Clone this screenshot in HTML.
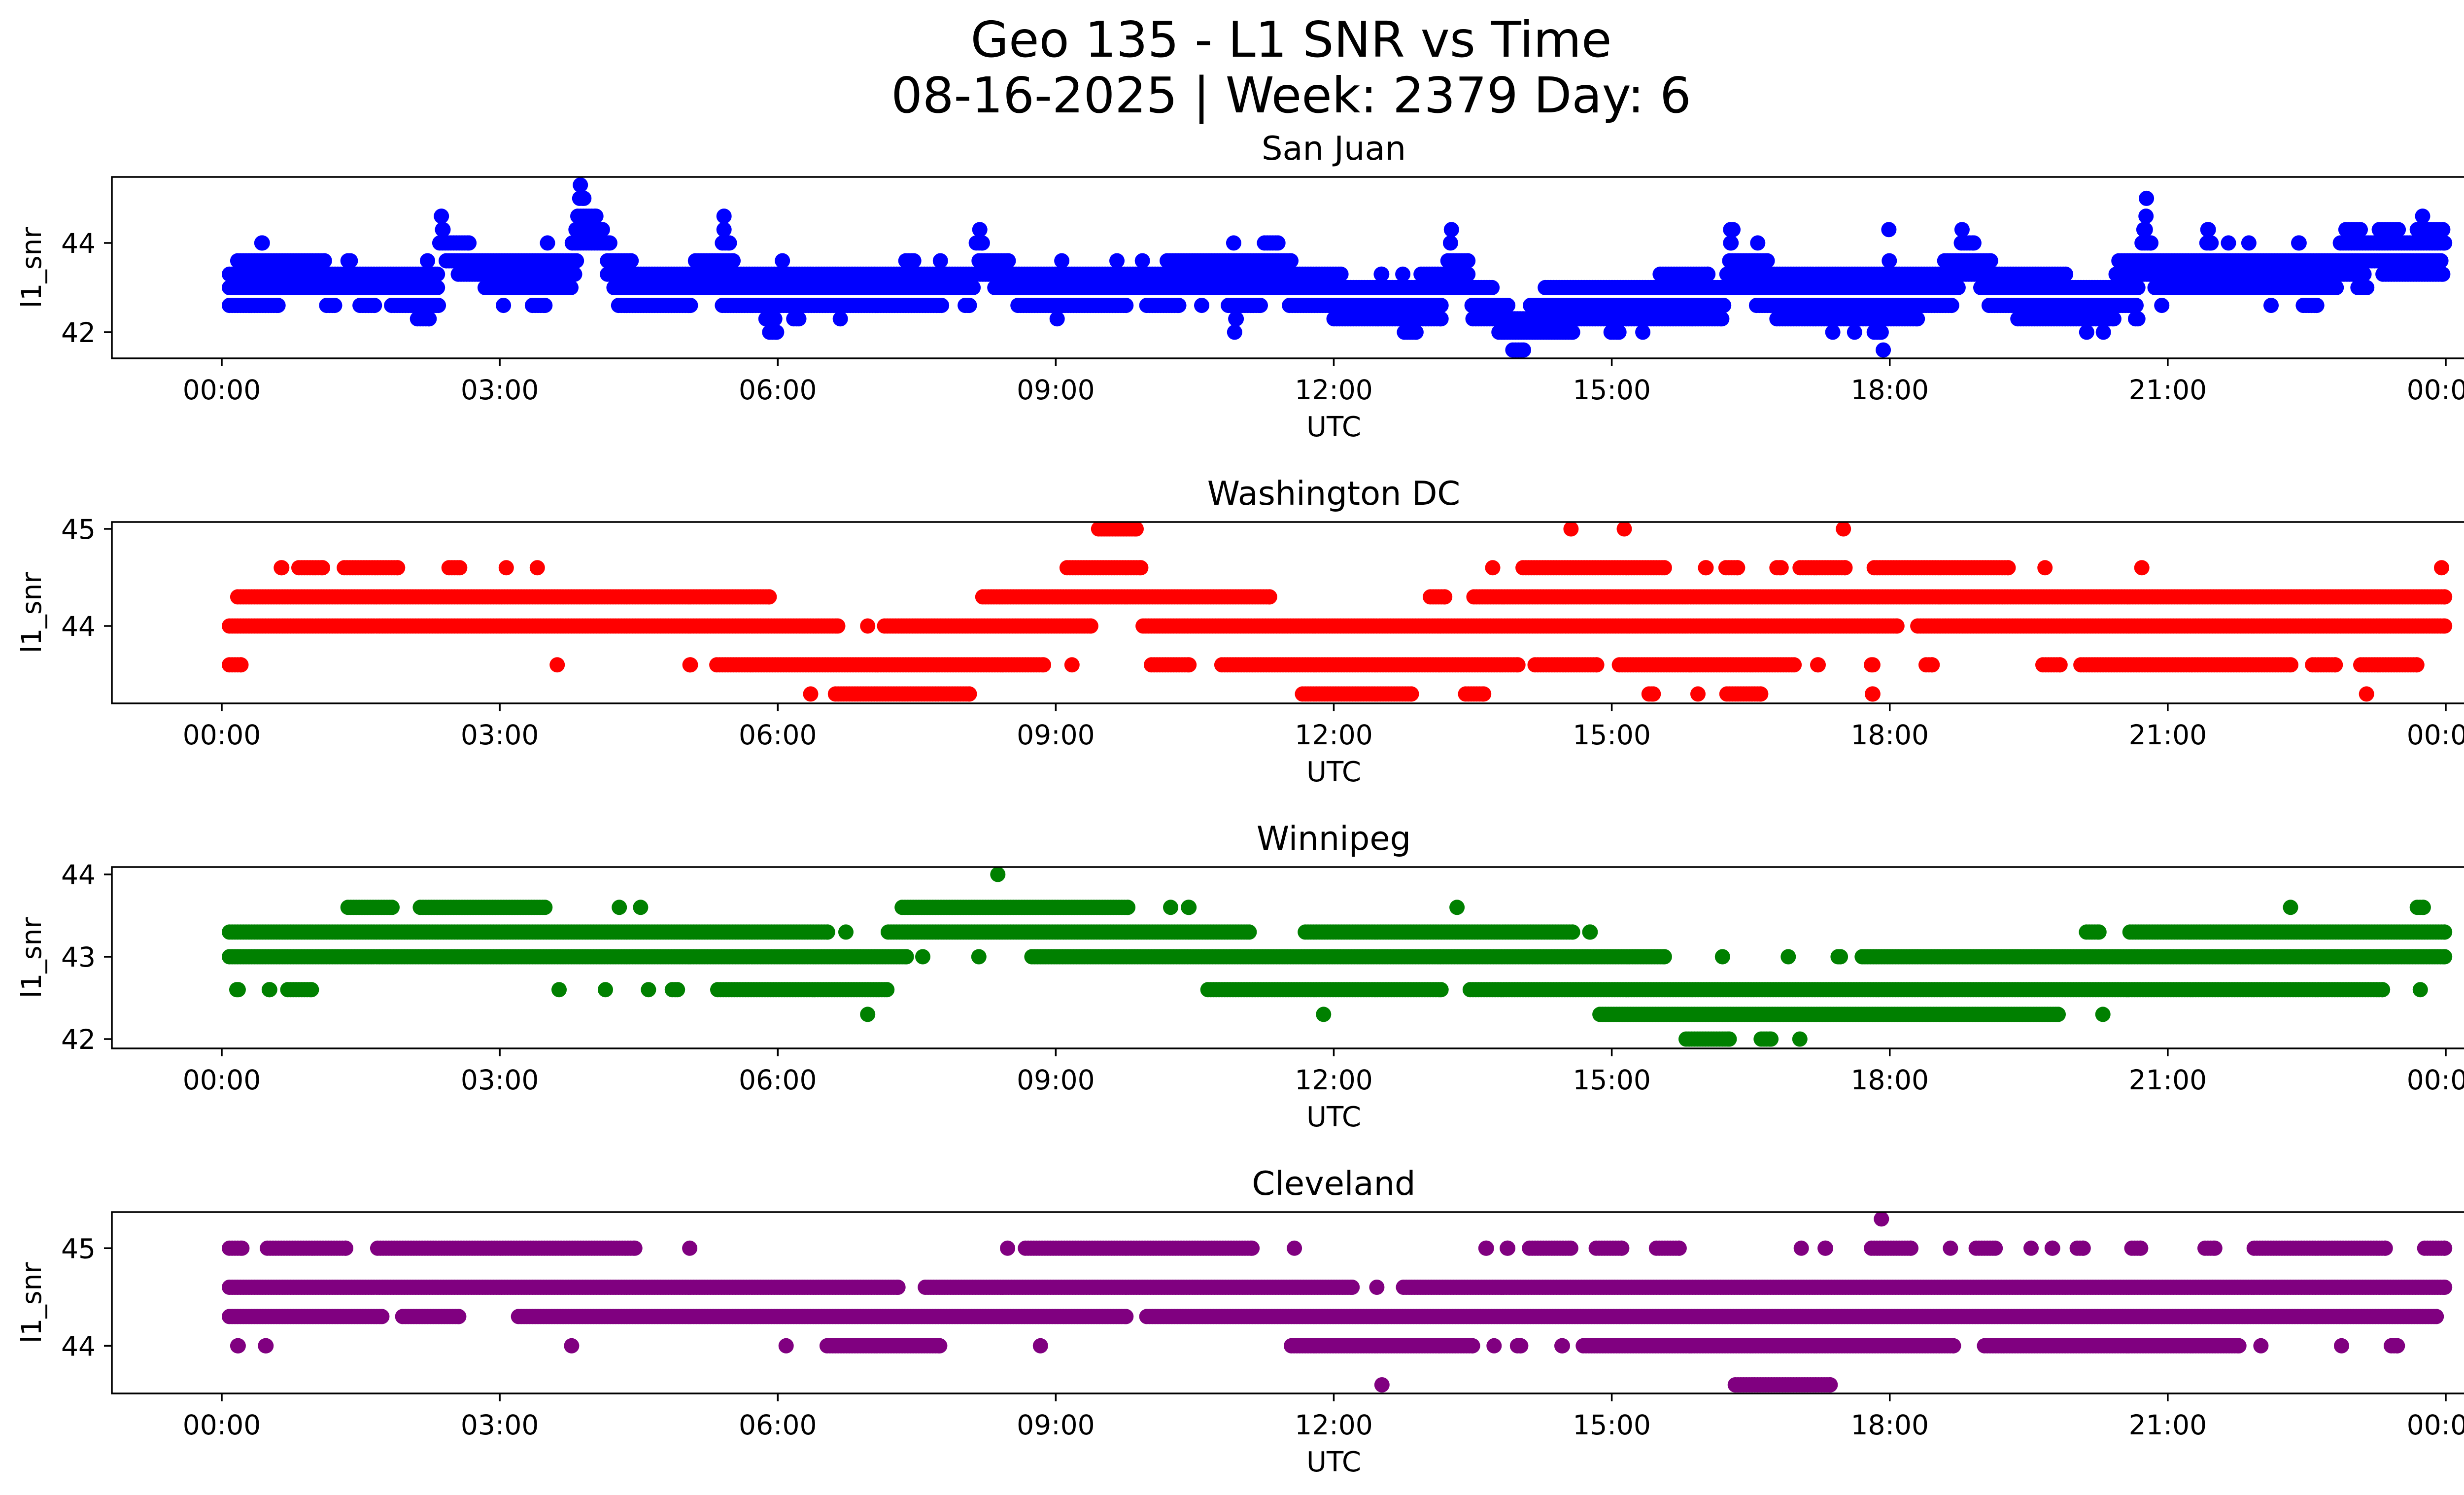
<!DOCTYPE html>
<html><head><meta charset="utf-8"><style>
html,body{margin:0;padding:0;background:#fff;}
svg{display:block;font-family:"DejaVu Sans","Liberation Sans",sans-serif;}
</style></head><body>
<svg id="fig" width="5226" height="3033" viewBox="0 0 5226 3033" xmlns="http://www.w3.org/2000/svg">
<rect width="5226" height="3033" fill="#fff"/>
<text x="2620" y="115" font-size="100" text-anchor="middle">Geo 135 - L1 SNR vs Time</text>
<text x="2620" y="228" font-size="100" text-anchor="middle">08-16-2025 | Week: 2379 Day: 6</text>
</svg>
<script>
// ---- data (hours UTC, SNR levels) ----
const xTickHours = [0,3,6,9,12,15,18,21,24];
const xTickLabels = ["00:00","03:00","06:00","09:00","12:00","15:00","18:00","21:00","00:00"];
const panelTitles = ["San Juan","Washington DC","Winnipeg","Cleveland"];
const panelColors = ["#0000ff","#ff0000","#008000","#800080"];
const yTicks1 = [42,44];
const yTicks2 = [44,45];
const yTicks3 = [42,43,44];
const yTicks4 = [44,45];
const levels1 = [45.3,45.0,44.6,44.3,44.0,43.6,43.3,43.0,42.6,42.3,42.0,41.6];
const runs1 = [
 [[3.81,3.93]],
 [[3.78,3.99],[20.73,20.81]],
 [[2.3,2.44],[3.76,4.12],[5.35,5.49],[20.7,20.83],[23.69,23.81]],
 [[2.3,2.47],[3.74,4.19],[5.35,5.49],[8.1,8.26],[13.2,13.34],[16.2,16.39],[17.93,18.05],[18.71,18.85],[20.66,20.84],[21.35,21.52],[22.84,23.16],[23.2,23.57],[23.61,24.05]],
 [[0.35,0.52],[2.27,2.75],[3.44,3.59],[3.7,4.27],[5.32,5.56],[8.06,8.29],[10.84,11.0],[11.17,11.48],[13.18,13.34],[16.2,16.37],[16.5,16.65],[18.69,18.99],[20.64,20.9],[21.34,21.55],[21.59,21.72],[21.8,21.95],[22.33,22.5],[22.78,24.07]],
 [[0.09,1.19],[1.28,1.47],[2.14,2.3],[2.34,3.91],[4.08,4.5],[5.03,5.6],[5.99,6.11],[7.3,7.55],[7.68,7.83],[8.09,8.57],[8.99,9.14],[9.59,9.73],[9.86,10.01],[10.12,11.62],[13.15,13.53],[16.19,16.76],[17.92,18.07],[18.51,19.17],[20.39,24.03]],
 [[0,2.41],[2.47,3.89],[4.08,12.16],[12.43,12.6],[12.69,12.8],[12.86,13.53],[15.44,16.12],[16.16,19.98],[20.36,23.2],[23.24,24.05]],
 [[0,2.41],[2.76,3.85],[4.15,8.19],[8.26,13.79],[14.2,18.82],[18.9,20.76],[20.78,22.9],[22.97,23.23]],
 [[0,0.69],[1.05,1.3],[1.41,1.73],[1.75,2.42],[2.98,3.1],[3.27,3.57],[4.2,5.14],[5.32,7.85],[7.94,8.15],[8.51,9.84],[9.9,10.41],[10.5,10.65],[10.78,11.29],[11.44,13.24],[13.41,13.96],[14.04,16.29],[16.48,18.75],[18.99,20.74],[20.87,21.0],[22.06,22.17],[22.38,22.69]],
 [[2.03,2.32],[5.79,6.05],[6.09,6.31],[6.6,6.75],[8.94,9.09],[10.86,11.03],[11.92,13.24],[13.42,16.27],[16.7,18.38],[19.3,20.5],[20.57,20.76]],
 [[5.83,6.07],[10.86,11.0],[12.68,12.97],[13.7,14.66],[14.91,15.16],[15.27,15.4],[17.31,17.46],[17.55,17.69],[17.75,17.99],[20.06,20.19],[20.23,20.38]],
 [[13.85,14.13],[17.86,18.0]]
];
const levels2 = [45.0,44.6,44.3,44.0,43.6,43.3];
const runs2 = [
 [[9.38,9.95],[14.48,14.64],[15.06,15.21],[17.42,17.58]],
 [[0.56,0.73],[0.75,1.17],[1.24,1.98],[2.37,2.65],[2.99,3.15],[3.33,3.48],[9.04,10.0],[13.64,13.79],[13.96,15.65],[15.93,16.1],[16.15,16.44],[16.7,16.91],[16.95,17.6],[17.75,19.36],[19.6,19.75],[20.64,20.8],[23.88,24.03]],
 [[0.09,5.99],[8.13,11.39],[12.96,13.28],[13.43,24.07]],
 [[0,6.73],[6.9,7.04],[7.07,9.46],[9.86,18.16],[18.22,24.07]],
 [[0,0.29],[3.54,3.7],[4.97,5.14],[5.26,8.95],[9.1,9.25],[9.95,10.52],[10.71,14.07],[14.09,14.92],[15.0,17.05],[17.14,17.31],[17.72,17.9],[18.31,18.54],[19.57,19.92],[19.98,22.41],[22.48,22.89],[23.0,23.77]],
 [[6.28,6.43],[6.54,8.15],[11.58,12.92],[13.34,13.7],[15.32,15.53],[15.85,16.01],[16.16,16.69],[17.73,17.9],[23.07,23.22]]
];
const levels3 = [44.0,43.6,43.3,43.0,42.6,42.3,42.0];
const runs3 = [
 [[8.3,8.45]],
 [[1.28,1.92],[2.06,3.57],[4.22,4.36],[4.44,4.6],[7.26,9.86],[10.17,10.31],[10.35,10.52],[13.25,13.41],[22.25,22.4],[23.61,23.84]],
 [[0,6.62],[6.66,6.81],[7.11,11.17],[11.61,14.66],[14.68,14.85],[20.04,20.34],[20.51,24.07]],
 [[0,7.47],[7.49,7.64],[8.1,8.24],[8.66,15.65],[16.12,16.27],[16.83,16.98],[17.36,17.55],[17.62,24.07]],
 [[0.08,0.26],[0.43,0.6],[0.63,1.05],[3.57,3.71],[4.06,4.22],[4.53,4.68],[4.78,5.0],[5.27,7.26],[10.56,13.24],[13.39,23.4],[23.65,23.8]],
 [[6.9,7.04],[11.82,11.96],[14.79,19.9],[20.22,20.38]],
 [[15.72,16.35],[16.53,16.8],[16.95,17.11]]
];
const levels4 = [45.3,45.0,44.6,44.3,44.0,43.6];
const runs4 = [
 [[17.83,17.99]],
 [[0,0.3],[0.41,1.42],[1.6,4.54],[4.97,5.13],[8.4,8.56],[8.59,11.2],[11.5,11.65],[13.56,13.73],[13.79,13.96],[14.03,14.64],[14.75,15.19],[15.4,15.81],[16.97,17.12],[17.22,17.39],[17.72,18.31],[18.58,18.73],[18.85,19.22],[19.45,19.6],[19.67,19.84],[19.94,20.17],[20.53,20.79],[21.32,21.59],[21.85,23.43],[23.69,24.07]],
 [[0,7.38],[7.51,12.28],[12.39,12.54],[12.67,24.07]],
 [[0,1.81],[1.87,2.64],[3.12,9.84],[9.9,23.98]],
 [[0.09,0.26],[0.39,0.56],[3.7,3.85],[6.01,6.17],[6.45,7.83],[8.76,8.91],[11.46,13.58],[13.65,13.81],[13.9,14.1],[14.38,14.55],[14.61,18.77],[18.94,21.85],[21.93,22.08],[22.8,22.95],[23.33,23.56]],
 [[12.45,12.59],[16.25,17.44]]
];
const yMax = [45.48,45.071,44.09,45.37];
const yPerUnit = [90.5,197,167,198];

// ---- layout ----
const NS="http://www.w3.org/2000/svg";
const svg=document.getElementById('fig');
const AX_L=227, AX_R=5186, AX_H=368, TOPS=[359,1059,1759,2459];
const X0=450, X1=4963;
function xScale(h){return X0+h*(X1-X0)/24;}
function mk(tag,attrs,parent){const e=document.createElementNS(NS,tag);for(const k in attrs)e.setAttribute(k,attrs[k]);(parent||svg).appendChild(e);return e;}
const allLevels=[levels1,levels2,levels3,levels4];
const allRuns=[runs1,runs2,runs3,runs4];
const allYTicks=[yTicks1,yTicks2,yTicks3,yTicks4];
const R=15.5, HALF=R/((X1-X0)/24), STEP=0.03;

for(let p=0;p<4;p++){
  const top=TOPS[p], bot=top+AX_H;
  const yScale=v=>top+(yMax[p]-v)*yPerUnit[p];
  const g=mk('g',{});
  
  
  const t=mk('text',{x:(AX_L+AX_R)/2,y:top-35,'font-size':67,'text-anchor':'middle'},g);
  t.textContent=panelTitles[p];
  
  
  const clip=mk('clipPath',{id:'c'+p},g);
  mk('rect',{x:AX_L,y:top,width:AX_R-AX_L,height:AX_H},clip);
  const pts=mk('g',{fill:panelColors[p],'clip-path':'url(#c'+p+')'},g);
  
  
  const lv=allLevels[p], rn=allRuns[p];
  for(let i=0;i<lv.length;i++){
    const cy=yScale(lv[i]);
    for(const seg of rn[i]){
      let a=Math.max(seg[0]+HALF,0), b=Math.min(seg[1]-HALF,24);
      if(b<=a){const m=(seg[0]+seg[1])/2;a=b=Math.min(Math.max(m,0),24);}
      for(let h=a;h<=b+1e-9;h+=STEP){
        const c=mk('circle',{cx:xScale(h).toFixed(1),cy:cy.toFixed(1),r:R},pts);
        
        
      }
      if((b-a)%STEP>0.005){mk('circle',{cx:xScale(b).toFixed(1),cy:cy.toFixed(1),r:R},pts);}
    }
  }
  const frame=mk('rect',{x:AX_L,y:top,width:AX_R-AX_L,height:AX_H,fill:'none',stroke:'#000','stroke-width':3.5},g);
  
  
  for(let k=0;k<xTickHours.length;k++){
    const x=xScale(xTickHours[k]);
    mk('line',{x1:x,x2:x,y1:bot,y2:bot+16,stroke:'#000','stroke-width':3.5},g);
    const tl=mk('text',{x:x,y:bot+83,'font-size':55,'text-anchor':'middle'},g);
    tl.textContent=xTickLabels[k];
    
    
  }
  for(const v of allYTicks[p]){
    const y=yScale(v);
    mk('line',{x1:AX_L-16,x2:AX_L,y1:y,y2:y,stroke:'#000','stroke-width':3.5},g);
    const yl=mk('text',{x:AX_L-33,y:y+20,'font-size':55,'text-anchor':'end'},g);
    yl.textContent=String(v);
    
    
  }
  const xl=mk('text',{x:(AX_L+AX_R)/2,y:bot+158,'font-size':56,'text-anchor':'middle'},g);
  xl.textContent='UTC';
  
  
  const cyl=top+AX_H/2;
  const ylb=mk('text',{x:0,y:0,'font-size':55,'text-anchor':'middle',transform:'translate(83,'+cyl+') rotate(-90)'},g);
  ylb.textContent='l1_snr';
  
  
}
</script>
</body></html>
